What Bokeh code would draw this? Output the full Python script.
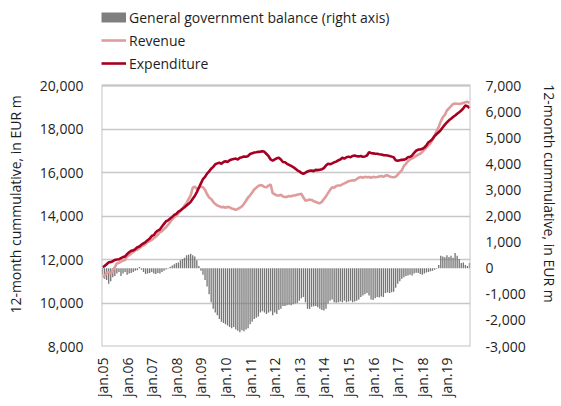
import math
from bokeh.plotting import figure
from bokeh.models import (Range1d, LinearAxis, FixedTicker, NumeralTickFormatter,
                          Legend, LegendItem, ColumnDataSource, BoxAnnotation)
from bokeh.embed import file_html
from bokeh.resources import INLINE

# ---------------- data (monthly, jan.05 .. dec.19) ----------------
years = ["05", "06", "07", "08", "09", "10", "11", "12", "13", "14", "15", "16", "17", "18", "19"]
tick_labels = ["jan." + y for y in years]

revenue = [
    11190, 11250, 11380, 11420, 11350, 11500, 11650, 11820, 11850, 11900, 11950, 11980,
    12150, 12200, 12280, 12350, 12420, 12450, 12520, 12600, 12650, 12720, 12800, 12850,
    12900, 12980, 13050, 13150, 13250, 13300, 13400, 13480, 13600, 13720, 13850, 13950,
    14020, 14120, 14250, 14330, 14480, 14600, 14780, 14950, 15300, 15350, 15250, 15300,
    15350, 15320, 15200, 15000, 14850, 14780, 14650, 14550, 14480, 14450, 14400, 14420,
    14380, 14420, 14400, 14350, 14320, 14280, 14330, 14380, 14440, 14560, 14700, 14850,
    14950, 15080, 15220, 15300, 15380, 15420, 15400, 15330, 15320, 15400, 15450, 15050,
    15000, 14950, 14940, 14980, 14900, 14870, 14880, 14920, 14900, 14940, 14950, 14980,
    15000, 15020, 14850, 14700, 14720, 14760, 14740, 14680, 14650, 14600, 14590, 14650,
    14780, 14900, 15050, 15200, 15320, 15300, 15380, 15400, 15400, 15460, 15500, 15550,
    15600, 15620, 15640, 15630, 15700, 15760, 15790, 15760, 15800, 15780, 15790, 15760,
    15800, 15780, 15790, 15820, 15840, 15800, 15860, 15870, 15820, 15790, 15780, 15800,
    15900, 16010, 16100, 16300, 16400, 16520, 16600, 16650, 16700, 16760, 16820, 16860,
    16950, 17050, 17150, 17250, 17350, 17500, 17700, 17900, 18100, 18350, 18540, 18650,
    18850, 18950, 19050, 19150, 19170, 19160, 19150, 19170, 19200, 19230, 19250, 19200,
]

expenditure = [
    11650, 11700, 11780, 11870, 11880, 11920, 11980, 12000, 12010, 12060, 12110, 12140,
    12250, 12330, 12400, 12420, 12480, 12560, 12600, 12680, 12740, 12800, 12880, 12960,
    13080, 13120, 13250, 13330, 13380, 13520, 13640, 13760, 13800, 13880, 13960, 14050,
    14100, 14200, 14250, 14330, 14400, 14480, 14560, 14650, 14790, 14920, 15100, 15300,
    15500, 15700, 15800, 15950, 16050, 16170, 16260, 16380, 16420, 16450, 16400, 16480,
    16520, 16480, 16560, 16600, 16620, 16640, 16600, 16680, 16700, 16740, 16720, 16760,
    16850, 16880, 16920, 16930, 16950, 16960, 16980, 16950, 16850, 16750, 16600, 16540,
    16600, 16650, 16680, 16600, 16480, 16470, 16400, 16350, 16300, 16250, 16180, 16100,
    16050, 15980, 15940, 15990, 16050, 16080, 16090, 16060, 16120, 16110, 16130, 16150,
    16200, 16320, 16400, 16380, 16420, 16470, 16500, 16560, 16600, 16680, 16640, 16700,
    16730, 16700, 16760, 16780, 16750, 16740, 16760, 16720, 16740, 16780, 16930, 16900,
    16880, 16860, 16860, 16840, 16830, 16800, 16790, 16780, 16760, 16730, 16700, 16560,
    16540, 16560, 16580, 16590, 16620, 16700, 16720, 16780, 16900, 17000, 17050, 17060,
    17090, 17150, 17250, 17390, 17450, 17550, 17680, 17770, 17850, 17950, 18080, 18200,
    18300, 18400, 18470, 18550, 18620, 18700, 18770, 18850, 18950, 19080, 19050, 18960,
]

balance = [
    -250, -400, -450, -600, -500, -350, -300, -200, -150, -300, -200, -150,
    -250, -200, -180, -150, -100, -80, 50, -60, -150, -220, -200, -180,
    -150, -200, -220, -180, -200, -150, -100, -50, -20, 60, 100, 150,
    200, 220, 300, 350, 400, 500, 520, 550, 500, 450, 300, 80,
    -100, -250, -450, -700, -1000, -1300, -1550, -1700, -1800, -1950, -2050, -2100,
    -2150, -2200, -2250, -2300, -2250, -2350, -2400, -2450, -2380, -2420, -2350, -2300,
    -2150, -2050, -1950, -1900, -1850, -1700, -1650, -1700, -1750, -1700, -1650, -1800,
    -1700, -1750, -1600, -1550, -1450, -1450, -1420, -1400, -1420, -1380, -1350, -1330,
    -1250, -1150, -1100, -1300, -1550, -1560, -1480, -1460, -1450, -1500, -1550, -1600,
    -1620, -1550, -1350, -1250, -1200, -1300, -1320, -1300, -1280, -1300, -1250, -1300,
    -1280, -1250, -1300, -1280, -1250, -1200, -1100, -1050, -1000, -950, -1050, -1200,
    -1220, -1150, -1100, -1120, -1080, -1100, -950, -930, -950, -920, -900, -750,
    -600, -500, -400, -350, -300, -280, -250, -280, -200, -170, -180, -220,
    -250, -200, -160, -150, -120, -100, -60, -20, 120, 480, 450, 420,
    500, 430, 480, 400, 580, 480, 350, 200, 220, 120, 80, 200,
]

left_ticks = [8000, 10000, 12000, 14000, 16000, 18000, 20000]
right_ticks = [-3000, -2000, -1000, 0, 1000, 2000, 3000, 4000, 5000, 6000, 7000]
axis_title = "12-month cummulative, in EUR m"

months = list(range(len(revenue)))
src = ColumnDataSource(dict(m=months, rev=revenue, exp=expenditure, bal=balance))

FONT = "Open Sans"
FS = "14px"
TXT = "#1e1e1e"
BOX = "#c4c4c4"
NBSP = "\u00a0"

# The frame reaches up to the top of the figure so that the legend can sit
# above the plotting box; the visible box is drawn with a BoxAnnotation.
EXTRA = 85 / 261          # legend strip height relative to the plotting box
l_lo, l_hi = left_ticks[0], left_ticks[-1]
r_lo, r_hi = right_ticks[0], right_ticks[-1]

p = figure(width=561, height=406, output_backend="svg", toolbar_location=None,
           x_range=Range1d(-0.5, len(months) - 0.5),
           y_range=Range1d(l_lo, l_hi + (l_hi - l_lo) * EXTRA),
           min_border_left=101, min_border_right=88, min_border_top=0, min_border_bottom=60)
p.extra_y_ranges = {"right": Range1d(r_lo, r_hi + (r_hi - r_lo) * EXTRA)}
p.outline_line_color = None
p.background_fill_color = "white"
p.border_fill_color = "white"

# axes
p.xaxis.ticker = FixedTicker(ticks=[12 * i for i in range(len(tick_labels))])
p.xaxis.major_label_overrides = {12 * i: t for i, t in enumerate(tick_labels)}
p.xaxis.major_label_orientation = math.pi / 2
p.yaxis.ticker = FixedTicker(ticks=left_ticks)
p.yaxis.formatter = NumeralTickFormatter(format="0,0")
# padding shifts the (frame-centred) title down to the middle of the plotting box
p.yaxis.axis_label = axis_title + NBSP * 17

raxis = LinearAxis(y_range_name="right", ticker=FixedTicker(ticks=right_ticks),
                   formatter=NumeralTickFormatter(format="0,0"),
                   axis_label=NBSP * 11 + axis_title)
p.add_layout(raxis, "right")

for ax in [p.xaxis[0], p.yaxis[0], raxis]:
    ax.axis_line_color = None
    ax.major_tick_line_color = None
    ax.minor_tick_line_color = None
    ax.major_tick_out = 0
    ax.minor_tick_out = 0
    ax.major_label_text_font = FONT
    ax.major_label_text_font_size = FS
    ax.major_label_text_color = TXT
    ax.axis_label_text_font = FONT
    ax.axis_label_text_font_size = FS
    ax.axis_label_text_font_style = "normal"
    ax.axis_label_text_color = TXT
p.xaxis.major_label_standoff = 11
p.yaxis.major_label_standoff = 18
p.yaxis.axis_label_standoff = 12
raxis.major_label_standoff = 15
raxis.axis_label_standoff = 11

p.xgrid.grid_line_color = None
p.ygrid.ticker = FixedTicker(ticks=left_ticks)
p.ygrid.grid_line_color = "#c8c8c8"
p.ygrid.grid_line_width = 1.3

# plotting box
p.add_layout(BoxAnnotation(left=-0.5, right=len(months) - 0.5, bottom=l_lo, top=l_hi,
                           fill_alpha=0, line_color=BOX, line_width=2, line_alpha=1))

# glyphs
bars = p.vbar(x="m", top="bal", bottom=0, width=0.65, source=src, y_range_name="right",
              fill_color="#767676", line_color=None)
rev_r = p.line("m", "rev", source=src, line_color="#de9c9c", line_width=2.6)
exp_r = p.line("m", "exp", source=src, line_color="#a50021", line_width=2.6)
# legend swatch for the bars: a wide grey stroke (draws nothing in the plot)
bar_key = p.line(x=[months[0]], y=[float("nan")], line_color="#7f7f7f",
                 line_width=10, line_cap="butt")

legend = Legend(items=[
    LegendItem(label="General government balance (right axis)", renderers=[bar_key]),
    LegendItem(label="Revenue", renderers=[rev_r]),
    LegendItem(label="Expenditure", renderers=[exp_r]),
], location=(0, 273), orientation="vertical")
legend.glyph_width = 25
legend.glyph_height = 20
legend.label_height = 20
legend.spacing = 3
legend.padding = 0
legend.margin = 0
legend.label_standoff = 3
legend.border_line_color = None
legend.background_fill_alpha = 0
legend.label_text_font = FONT
legend.label_text_font_size = FS
legend.label_text_color = TXT
p.add_layout(legend, "center")

open("out.html", "w").write(file_html(p, INLINE))
